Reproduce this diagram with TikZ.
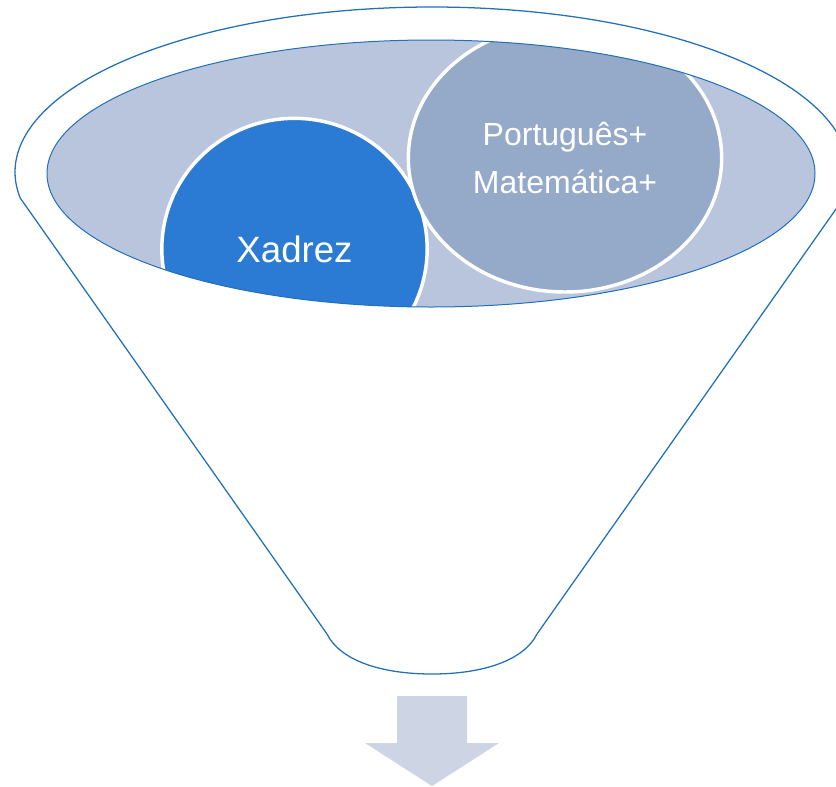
\documentclass[tikz,border=0pt]{standalone}
\usepackage{fontspec}
\setmainfont{Liberation Sans}
\usetikzlibrary{shapes.geometric}
\definecolor{funnelline}{HTML}{2270B8}
\definecolor{rimfill}{HTML}{B9C5DD}
\definecolor{mixfill}{HTML}{95A9C9}
\definecolor{chessfill}{HTML}{2B7BD5}
\definecolor{arrowfill}{HTML}{CDD4E4}
\tikzstyle{funnel} = [draw=funnelline, line width=0.95pt]
\tikzstyle{rim} = [draw=funnelline, line width=0.75pt]
\tikzstyle{bubble} = [ellipse, draw=white, line width=2.6pt, inner sep=0pt, text=white, align=center]
\tikzstyle{down} = [fill=arrowfill]

\begin{document}
\begin{tikzpicture}[x=0.75pt, y=0.75pt]
  \useasboundingbox (0,0) rectangle (836,-786);
  %contorno do funil
  \coordinate (top) at (432,-172);
  \draw[funnel] (top) ++(-9.07:417 and 165) coordinate (rimR)
    arc[start angle=-9.07, end angle=189.07, x radius=417, y radius=165] coordinate (rimL)
    -- (327,-634) .. controls (340,-660) and (380,-674) .. (432,-674)
    .. controls (484,-674) and (524,-660) .. (537,-634) -- cycle;

  %boca do funil com os dois circulos
  \fill[rimfill] (431,-173.5) ellipse [x radius=384, y radius=133.5];
  \begin{scope}
    \clip (431,-173.5) ellipse [x radius=384, y radius=133.5];
    \node (xadrez) [bubble, fill=chessfill, minimum width=199pt, minimum height=196pt, font=\fontsize{27.5}{33}\selectfont] at (294.5,-249) {Xadrez};
    \node (mix) [bubble, fill=mixfill, minimum width=235pt, minimum height=201pt, font=\fontsize{24}{36}\selectfont] at (565,-158) {Português+\\Matemática+};
  \end{scope}
  \draw[rim] (431,-173.5) ellipse [x radius=384, y radius=133.5];

  %seta para baixo
  \fill[down] (397,-696) -- (467,-696) -- (467,-743) -- (499,-743) -- (432,-786) -- (365,-743) -- (397,-743) -- cycle;
\end{tikzpicture}
\end{document}
